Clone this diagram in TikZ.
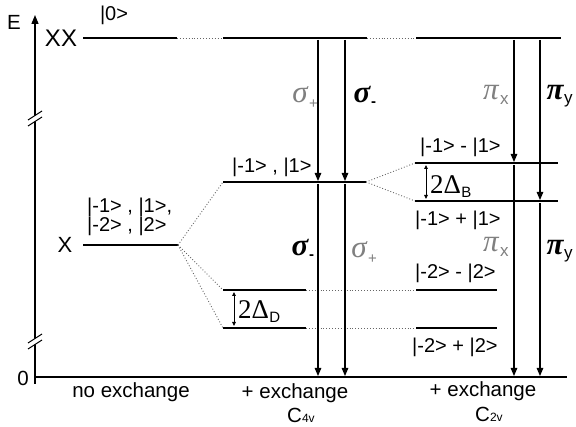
\documentclass[tikz,border=0pt]{standalone}
\usepackage{fontspec}
\setmainfont{Liberation Sans}
\newfontfamily\grk{Liberation Serif}
\usetikzlibrary{arrows.meta}
\begin{document}
\begin{tikzpicture}[x=1pt,y=-1pt,
  level/.style={line width=2.2pt},
  dotline/.style={dotted, line width=0.9pt, black!60},
  trans/.style={line width=1.1pt,-{Triangle[length=8pt,width=6.5pt]}},
  txt/.style={inner sep=0pt, font=\fontsize{20.5}{20.5}\selectfont},
  st/.style={inner sep=0pt, font=\fontsize{20}{20}\selectfont},
  pol/.style={inner sep=0pt, font=\fontsize{31}{31}\selectfont\grk\itshape},
  polb/.style={inner sep=0pt, font=\fontsize{31}{31}\selectfont\grk\bfseries\itshape},
  polg/.style={pol, text=black!50},
  sub/.style={inner sep=0pt, font=\fontsize{15}{15}\selectfont},
  dlt/.style={inner sep=0pt, anchor=west, font=\fontsize{27}{27}\selectfont\grk},
  dbl/.style={line width=0.9pt,{Triangle[length=4pt,width=3.5pt]}-{Triangle[length=4pt,width=3.5pt]}}
]
\useasboundingbox[fill=white] (0,0) rectangle (576,427);
% axis
\coordinate (ax0) at (35,384);
\coordinate (axtop) at (35,15);
\coordinate (base0) at (35,377);
\coordinate (base1) at (567,377);
\draw[line width=1.3pt,-{Triangle[length=9pt,width=7pt]}] (ax0) -- (axtop);
\draw[line width=1.3pt] (base0) -- (base1);
% axis breaks
\fill[white] (28,120) -- (42,111) -- (42,117) -- (28,126) -- cycle;
\draw[line width=1pt] (28,120) -- (42,111) (28,126) -- (42,117);
\fill[white] (28,343) -- (42,334) -- (42,340) -- (28,349) -- cycle;
\draw[line width=1pt] (28,343) -- (42,334) (28,349) -- (42,340);
\node[txt] (E) at (14,22) {E};
\node[txt] (zero) at (23,378) {0};

% levels: no exchange
\coordinate (xxa0) at (83,38); \coordinate (xxa1) at (177,38);
\coordinate (xa0) at (83,245); \coordinate (xa1) at (178,245);
\coordinate (ga0) at (83,377); \coordinate (ga1) at (177,377);
% C4v
\coordinate (xxb0) at (223,38); \coordinate (xxb1) at (367,38);
\coordinate (b10) at (223,182); \coordinate (b11) at (366,182);
\coordinate (d10) at (223,290); \coordinate (d11) at (306,290);
\coordinate (d20) at (223,328); \coordinate (d21) at (306,328);
\coordinate (gb0) at (223,377); \coordinate (gb1) at (367,377);
% C2v
\coordinate (xxc0) at (416,38); \coordinate (xxc1) at (561,38);
\coordinate (c10) at (415,163); \coordinate (c11) at (558,163);
\coordinate (c20) at (415,201); \coordinate (c21) at (558,201);
\coordinate (e10) at (416,290); \coordinate (e11) at (497,290);
\coordinate (e20) at (416,328); \coordinate (e21) at (497,328);
\coordinate (gc0) at (415,377); \coordinate (gc1) at (567,377);

\foreach \a/\b in {xxa0/xxa1,xa0/xa1,ga0/ga1,xxb0/xxb1,b10/b11,d10/d11,d20/d21,gb0/gb1,xxc0/xxc1,c10/c11,c20/c21,e10/e11,e20/e21,gc0/gc1}
  \draw[level] (\a) -- (\b);

% dotted connections
\draw[dotline] (xxa1) -- (xxb0);
\draw[dotline] (xxb1) -- (xxc0);
\draw[dotline] (xa1) -- (b10);
\draw[dotline] (xa1) -- (d10);
\draw[dotline] (xa1) -- (d20);
\draw[dotline] (b11) -- (c10);
\draw[dotline] (b11) -- (c20);
\draw[dotline] (d11) -- (e10);
\draw[dotline] (d21) -- (e20);

% transitions C4v
\coordinate (s1t) at (318,40); \coordinate (s1m) at (318,181); \coordinate (s1u) at (318,184); \coordinate (s1b) at (318,376);
\coordinate (s2t) at (345,40); \coordinate (s2m) at (345,181); \coordinate (s2u) at (345,184); \coordinate (s2b) at (345,376);
\draw[trans] (s1t) -- (s1m);
\draw[trans] (s2t) -- (s2m);
\draw[trans] (s1u) -- (s1b);
\draw[trans] (s2u) -- (s2b);
% transitions C2v
\coordinate (p1t) at (514,40); \coordinate (p1m) at (514,162); \coordinate (p1u) at (514,165); \coordinate (p1b) at (514,376);
\coordinate (p2t) at (540,40); \coordinate (p2m) at (540,200); \coordinate (p2u) at (540,203); \coordinate (p2b) at (540,376);
\draw[trans] (p1t) -- (p1m);
\draw[trans] (p2t) -- (p2m);
\draw[trans] (p1u) -- (p1b);
\draw[trans] (p2u) -- (p2b);

% splittings
\coordinate (db0) at (426,165); \coordinate (db1) at (426,199);
\draw[dbl] (db0) -- (db1);
\node[dlt] (dB) at (430,185) {2Δ};
\node[sub, anchor=west] (dBs) at (dB.east|-0,192) {B};
\coordinate (dd0) at (234,292); \coordinate (dd1) at (234,326);
\draw[dbl] (dd0) -- (dd1);
\node[dlt] (dD) at (238,310) {2Δ};
\node[sub, anchor=west] (dDs) at (dD.east|-0,317) {D};

% labels
\node[txt, font=\fontsize{24}{24}\selectfont] (XX) at (61,38) {XX};
\node[st] (s0) at (114,15) {|0>};
\node[txt, font=\fontsize{22}{22}\selectfont] (X) at (65,245) {X};
\node[st, anchor=west] (xs1) at (87,207) {|-1> , |1>,};
\node[st, anchor=west] (xs2) at (87,226) {|-2> , |2>};
\node[st, anchor=west] (bs1) at (232,167) {|-1> , |1>};
\node[st, anchor=west] (cs1) at (420,147) {|-1> - |1>};
\node[st, anchor=west] (cs2) at (415,220) {|-1> + |1>};
\node[st, anchor=west] (es1) at (415,273) {|-2> - |2>};
\node[st, anchor=west] (es2) at (412,347) {|-2> + |2>};

% polarisation labels
\node[polg] (sp1) at (300,95) {σ};
\node[sub, text=black!50, anchor=west] at (309,104) {+};
\node[polb] (sm1) at (362,95) {σ};
\node[sub, font=\fontsize{15}{15}\selectfont\bfseries, anchor=west] at (371,104) {-};
\node[polb] (sm2) at (300,248) {σ};
\node[sub, font=\fontsize{15}{15}\selectfont\bfseries, anchor=west] at (309,257) {-};
\node[polg] (sp2) at (359,250) {σ};
\node[sub, text=black!50, anchor=west] at (368,259) {+};

\node[polg] (px1) at (491,93) {π};
\node[sub, text=black!50, font=\fontsize{17}{17}\selectfont, anchor=west] at (500,100) {x};
\node[polb] (py1) at (555,93) {π};
\node[sub, font=\fontsize{17}{17}\selectfont, anchor=west] at (564,101) {y};
\node[polg] (px2) at (491,245) {π};
\node[sub, text=black!50, font=\fontsize{17}{17}\selectfont, anchor=west] at (500,252) {x};
\node[polb] (py2) at (555,248) {π};
\node[sub, font=\fontsize{17}{17}\selectfont, anchor=west] at (564,256) {y};

% bottom labels
\node[txt] (l1) at (131,392) {no exchange};
\node[txt] (l2) at (295,393) {+ exchange};
\node[txt, anchor=west] (l2c) at (287,415) {C\fontsize{12}{12}\selectfont 4v};
\node[txt] (l3) at (483,391) {+ exchange};
\node[txt, anchor=west] (l3c) at (475,414) {C\fontsize{12}{12}\selectfont 2v};
\end{tikzpicture}
\end{document}
